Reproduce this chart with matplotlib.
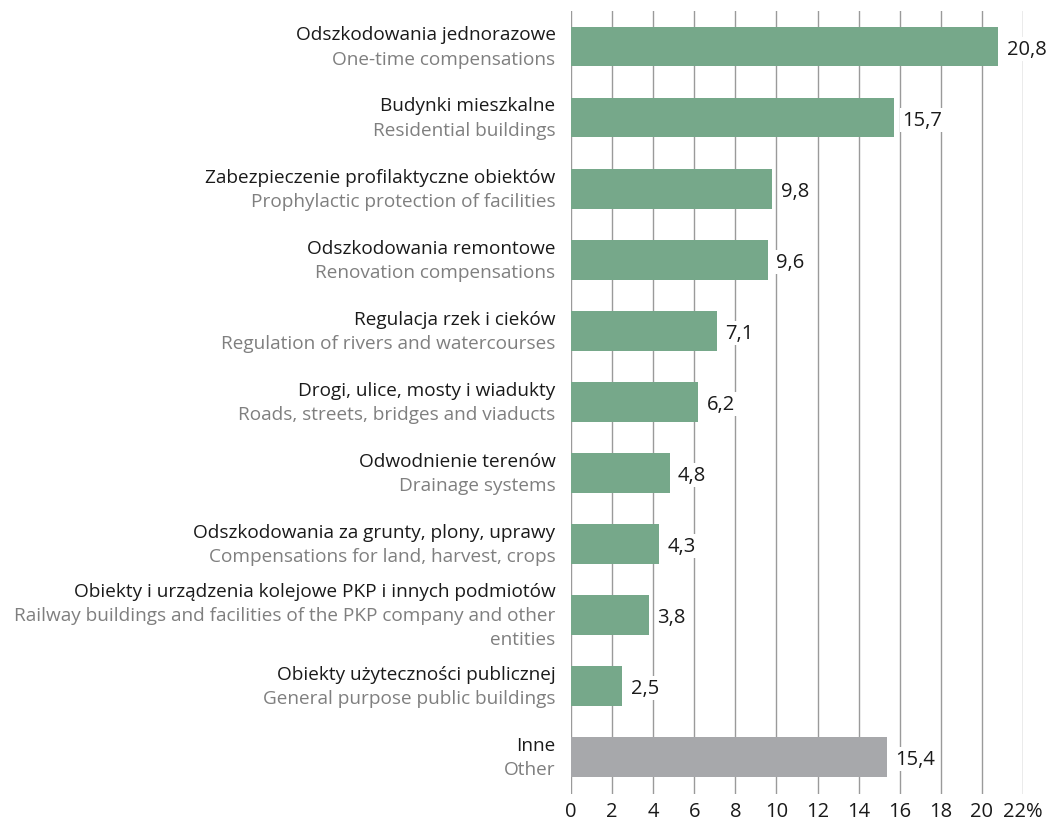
import matplotlib
matplotlib.use("Agg")
import matplotlib.pyplot as plt

labels_pl = [
    "Odszkodowania jednorazowe",
    "Budynki mieszkalne",
    "Zabezpieczenie profilaktyczne obiektów",
    "Odszkodowania remontowe",
    "Regulacja rzek i cieków",
    "Drogi, ulice, mosty i wiadukty",
    "Odwodnienie terenów",
    "Odszkodowania za grunty, plony, uprawy",
    "Obiekty i urządzenia kolejowe PKP i innych podmiotów",
    "Obiekty użyteczności publicznej",
    "Inne",
]
labels_en = [
    "One-time compensations",
    "Residential buildings",
    "Prophylactic protection of facilities",
    "Renovation compensations",
    "Regulation of rivers and watercourses",
    "Roads, streets, bridges and viaducts",
    "Drainage systems",
    "Compensations for land, harvest, crops",
    "Railway buildings and facilities of the PKP company and other\nentities",
    "General purpose public buildings",
    "Other",
]
values = [20.8, 15.7, 9.8, 9.6, 7.1, 6.2, 4.8, 4.3, 3.8, 2.5, 15.4]
xticks = [0, 2, 4, 6, 8, 10, 12, 14, 16, 18, 20, 22]
xticklabels = ["0", "2", "4", "6", "8", "10", "12", "14", "16", "18", "20", "22%"]

plt.rcParams['font.family'] = ['Open Sans', 'DejaVu Sans']

GREEN = "#76a88a"
GRAY = "#a7a8ab"
fig = plt.figure(figsize=(10.53, 8.2), dpi=100)
ax = fig.add_axes([571/1053, 1-795/820, (1023-571)/1053, (795-12)/820])

n = len(values)
ypos = list(range(n))
colors = [GREEN]*(n-1) + [GRAY]
ax.barh(ypos, values, height=0.56, color=colors, zorder=3)
ax.set_xlim(0, 22)
ax.set_ylim(n - 0.5 + 0.02, -0.5)

for x in xticks:
    ax.axvline(x, color="#9a9a9a", lw=1, zorder=1)

for sp in ax.spines.values():
    sp.set_visible(False)
ax.set_yticks([])
ax.set_xticks(xticks)
ax.set_xticklabels(xticklabels, fontsize=14.5, color="#1a1a1a")
ax.tick_params(axis='x', length=0, pad=5)

for i, v in enumerate(values):
    ax.text(v + 0.4, i + 0.03, f"{v:.1f}".replace(".", ","), va="center", ha="left",
            fontsize=14.5, color="#1a1a1a", zorder=4,
            bbox=dict(facecolor="white", edgecolor="none", pad=1.5))

for i, (pl, en) in enumerate(zip(labels_pl, labels_en)):
    nlines = 1 + en.count("\n") + 1
    offs = 0.34
    start = i - (nlines - 1) * offs / 2
    ax.text(-0.75, start, pl, ha="right", va="center", fontsize=13.7, color="#1a1a1a",
            clip_on=False)
    for k, line in enumerate(en.split("\n")):
        ax.text(-0.75, start + (k + 1) * offs, line, ha="right", va="center", fontsize=13.7,
                color="#7f7f7f", clip_on=False)

fig.savefig("out.png", dpi=100)
